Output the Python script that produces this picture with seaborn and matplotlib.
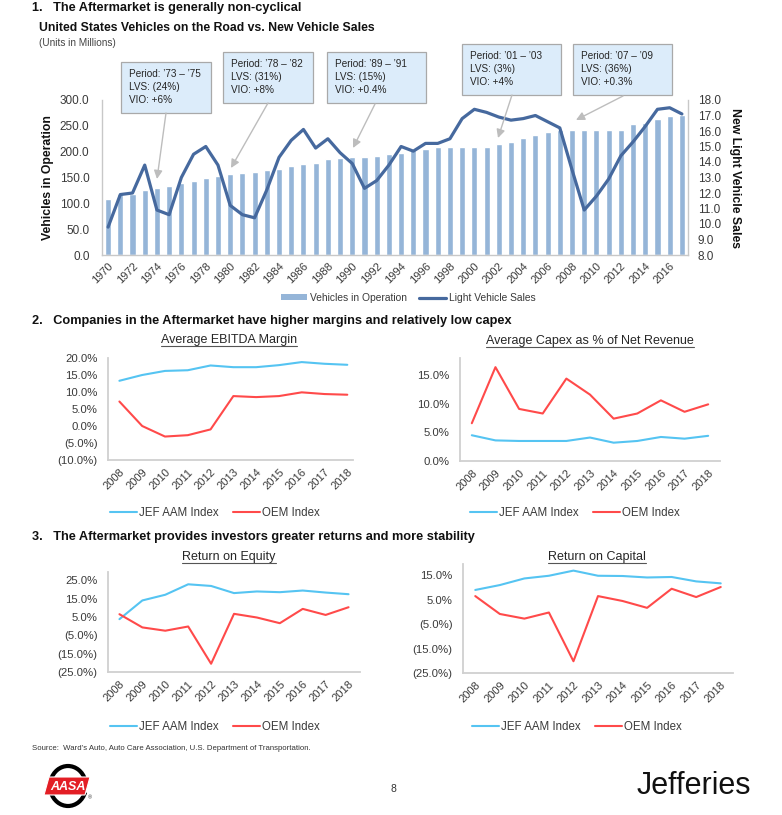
import numpy as np
import pandas as pd
import matplotlib
matplotlib.use("Agg")
import matplotlib.pyplot as plt
import seaborn as sns
from matplotlib.patches import Rectangle, Polygon, Arc, Patch, FancyArrowPatch
from matplotlib.lines import Line2D
from matplotlib.ticker import FuncFormatter

# ---------------- data ----------------
years = list(range(1970, 2018))
vio = [108, 118, 118, 126, 130, 133, 139, 143, 149, 152,
       156, 159, 160, 165, 166, 172, 176, 179, 185, 188,
       190, 189, 191, 195, 198, 203, 206, 210, 209, 209,
       210, 210, 214, 219, 226, 233, 238, 242, 242, 242,
       241, 241, 242, 253, 256, 263, 269, 271]
lvs = [9.8, 11.9, 12.0, 13.8, 10.9, 10.6, 13.0, 14.5, 15.0, 13.8,
       11.2, 10.6, 10.4, 12.2, 14.3, 15.4, 16.1, 14.9, 15.5, 14.6,
       13.9, 12.3, 12.8, 13.8, 15.0, 14.7, 15.2, 15.2, 15.5, 16.8,
       17.4, 17.2, 16.9, 16.7, 16.8, 17.0, 16.6, 16.2, 13.5, 10.9,
       11.8, 12.9, 14.4, 15.3, 16.3, 17.4, 17.5, 17.1]

periods = ["Period: \u201973 \u2013 \u201975\nLVS: (24%)\nVIO: +6%",
           "Period: \u201978 \u2013 \u201982\nLVS: (31%)\nVIO: +8%",
           "Period: \u201989 \u2013 \u201991\nLVS: (15%)\nVIO: +0.4%",
           "Period: \u201901 \u2013 \u201903\nLVS: (3%)\nVIO: +4%",
           "Period: \u201907 \u2013 \u201909\nLVS: (36%)\nVIO: +0.3%"]

small_years = list(range(2008, 2019))
ebitda_jef = [13.3, 15.0, 16.2, 16.4, 17.8, 17.3, 17.3, 17.9, 18.8, 18.3, 18.0]
ebitda_oem = [7.2, 0.0, -3.1, -2.7, -1.0, 8.8, 8.5, 8.8, 9.9, 9.4, 9.2]
capex_jef = [4.5, 3.6, 3.5, 3.5, 3.5, 4.1, 3.2, 3.5, 4.2, 3.9, 4.4]
capex_oem = [6.6, 16.4, 9.1, 8.3, 14.4, 11.6, 7.4, 8.3, 10.6, 8.6, 9.9]
roe_jef = [3.8, 14.0, 17.1, 22.8, 21.9, 18.0, 18.9, 18.5, 19.4, 18.3, 17.4]
roe_oem = [6.5, -0.7, -2.5, -0.2, -20.5, 6.7, 4.7, 1.6, 9.4, 6.1, 10.3]
roc_jef = [8.9, 10.9, 13.6, 14.7, 16.8, 14.7, 14.6, 14.0, 14.2, 12.4, 11.6]
roc_oem = [6.4, -0.9, -2.8, -0.3, -20.2, 6.4, 4.4, 1.6, 9.4, 6.0, 10.1]
series_names = ["JEF AAM Index", "OEM Index"]

# ---------------- style ----------------
sns.set_style("white")
plt.rcParams["font.family"] = ["Liberation Sans", "DejaVu Sans"]

W, H = 782, 815
fig = plt.figure(figsize=(W / 100, H / 100), dpi=100)
fig.patch.set_facecolor("white")

def fx(x):
    return x / W

def fy(y):
    return 1 - y / H

def add_ax(l, r, t, b):
    return fig.add_axes([fx(l), fy(b), (r - l) / W, (b - t) / H])

BAR = "#95b5d8"
LINE = "#46699e"
JEF = "#55c4f2"
OEM = "#ff4a4a"
SPINE = "#c8c8c8"
TXT = "#3a3a3a"

# ---------------- headings ----------------
fig.text(fx(32), fy(8), "1.   The Aftermarket is generally non-cyclical", fontsize=9.2,
         fontweight="bold", va="center", color="#111111")
fig.text(fx(39), fy(28), "United States Vehicles on the Road vs. New Vehicle Sales", fontsize=8.8,
         fontweight="bold", va="center", color="#111111")
fig.text(fx(39), fy(43), "(Units in Millions)", fontsize=7.2, va="center", color="#444444")
fig.text(fx(32), fy(321), "2.   Companies in the Aftermarket have higher margins and relatively low capex",
         fontsize=9.2, fontweight="bold", va="center", color="#111111")
fig.text(fx(32), fy(537), "3.   The Aftermarket provides investors greater returns and more stability",
         fontsize=9.2, fontweight="bold", va="center", color="#111111")

# ---------------- top chart ----------------
df_top = pd.DataFrame({"year": years, "vio": vio, "lvs": lvs})
ax = add_ax(102, 688, 100, 255)
sns.barplot(data=df_top, x="year", y="vio", color=BAR, saturation=1, width=0.5, ax=ax)
ax2 = ax.twinx()
sns.lineplot(x=np.arange(len(years)), y=df_top["lvs"].values, color=LINE, lw=2.3, ax=ax2)
ax.set_xlim(-0.5, len(years) - 0.5)
ax.set_ylim(0, 300)
ax2.set_ylim(8, 18)
ax.set_yticks(np.arange(0, 301, 50))
ax.yaxis.set_major_formatter(FuncFormatter(lambda v, p: f"{v:.1f}"))
ax2.set_yticks(np.arange(8, 19, 1))
ax2.yaxis.set_major_formatter(FuncFormatter(lambda v, p: f"{v:.1f}"))
pos = np.arange(0, len(years), 2)
ax.set_xticks(pos)
ax.set_xticklabels([str(years[i]) for i in pos], rotation=45, ha="right",
                   rotation_mode="anchor", fontsize=8.0, color=TXT)
ax.set_xlabel("")
ax.set_ylabel("Vehicles in Operation", fontsize=8.8, fontweight="bold", color="#111111")
ax2.set_ylabel("New Light Vehicle Sales", fontsize=8.8, fontweight="bold", color="#111111",
               rotation=270)
ax.yaxis.label.set_va("center")
ax2.yaxis.label.set_va("center")
ax.yaxis.set_label_coords(-0.092, 0.5)
ax2.yaxis.set_label_coords(1.080, 0.5)
for a in (ax, ax2):
    a.tick_params(axis="both", length=0, labelsize=8.5, labelcolor=TXT)
    a.spines["top"].set_visible(False)
    for s in ("left", "right", "bottom"):
        a.spines[s].set_color(SPINE)
        a.spines[s].set_linewidth(1.0)
ax.tick_params(axis="y", pad=9)
ax2.tick_params(axis="y", pad=7)
ax.tick_params(axis="x", pad=4, labelsize=8.0)
ax.spines["right"].set_visible(False)
ax2.spines["left"].set_visible(False)
ax2.spines["bottom"].set_visible(False)

fig.legend(handles=[Patch(facecolor=BAR, edgecolor="none", label="Vehicles in Operation"),
                    Line2D([], [], color=LINE, lw=2.3, label="Light Vehicle Sales")],
           loc="center", bbox_to_anchor=(fx(408), fy(298)), ncol=2, frameon=False,
           fontsize=7.4, handlelength=2.6, handleheight=0.55, columnspacing=1.2,
           handletextpad=0.25, labelcolor=TXT)

# annotation boxes (pixel layout: left, top, right, bottom, text x, text top)
boxes = [(121, 62, 211, 113, 129, 69),
         (223, 52, 313, 103, 231, 59),
         (327, 52, 426, 103, 335, 59),
         (462, 44, 561, 95, 470, 51),
         (573, 44, 672, 95, 581, 51)]
arrows = [((166, 113), (157, 179)),
          ((268, 103), (231, 168)),
          ((375, 104), (353, 148)),
          ((512, 95), (498, 138)),
          ((623, 96), (576, 120))]
for (l, t, r, b, tx, ty), txt in zip(boxes, periods):
    fig.add_artist(Rectangle((fx(l), fy(b)), (r - l) / W, (b - t) / H, transform=fig.transFigure,
                             facecolor="#dcecfa", edgecolor="#a9a9a9", lw=0.9, zorder=5))
    fig.text(fx(tx), fy(ty), txt, fontsize=7.2, va="top", ha="left", color="#262626",
             linespacing=1.35, zorder=6)
for (p0, p1) in arrows:
    fig.add_artist(FancyArrowPatch(
        (fx(p0[0]), fy(p0[1])), (fx(p1[0]), fy(p1[1])), transform=fig.transFigure,
        arrowstyle="-|>,head_length=5,head_width=2.5", color="#bdbdbd", lw=1.0,
        shrinkA=0, shrinkB=0, zorder=6))

# ---------------- small charts ----------------
def pct_fmt(v, p):
    return f"({abs(v):.1f}%)" if v < -1e-9 else f"{v:.1f}%"

titles = []

def small_chart(box, jef, oem, ylim, yticks, xlim, title, title_xy, legend_xy):
    l, r, t, b = box
    a = add_ax(l, r, t, b)
    df = pd.DataFrame({"x": list(range(len(small_years))) * 2,
                       "v": jef + oem,
                       "s": [series_names[0]] * len(jef) + [series_names[1]] * len(oem)})
    sns.lineplot(data=df, x="x", y="v", hue="s", palette=[JEF, OEM], lw=1.5, ax=a, legend=False)
    a.set_xlim(*xlim)
    a.set_ylim(*ylim)
    a.set_yticks(yticks)
    a.yaxis.set_major_formatter(FuncFormatter(pct_fmt))
    a.set_xticks(range(len(small_years)))
    a.set_xticklabels([str(y) for y in small_years], rotation=45, ha="right",
                      rotation_mode="anchor", fontsize=8.0, color=TXT)
    a.tick_params(axis="y", length=0, labelsize=8.2, labelcolor=TXT, pad=7.5)
    a.tick_params(axis="x", length=0, labelsize=8.0, labelcolor=TXT, pad=5)
    a.set_xlabel("")
    a.set_ylabel("")
    for s in ("top", "right"):
        a.spines[s].set_visible(False)
    for s in ("left", "bottom"):
        a.spines[s].set_color("#d0d0d0")
        a.spines[s].set_linewidth(1.3)
    tt = fig.text(fx(title_xy[0]), fy(title_xy[1]), title, ha="center", va="center",
                  fontsize=9.0, color="#262626")
    titles.append(tt)
    fig.legend(handles=[Line2D([], [], color=JEF, lw=1.5, label=series_names[0]),
                        Line2D([], [], color=OEM, lw=1.5, label=series_names[1])],
               loc="center", bbox_to_anchor=(fx(legend_xy[0]), fy(legend_xy[1])), ncol=2,
               frameon=False, fontsize=8.3, handlelength=2.3, columnspacing=1.3,
               handletextpad=0.2, labelcolor=TXT)
    return a

small_chart((108, 353, 358, 460), ebitda_jef, ebitda_oem, (-10, 20), np.arange(-10, 21, 5),
            (-0.5, 10.25), "Average EBITDA Margin", (229, 340), (215, 513))
small_chart((460, 720, 358, 461), capex_jef, capex_oem, (0, 18), np.arange(0, 16, 5),
            (-0.5, 10.5), "Average Capex as % of Net Revenue", (590, 341), (575, 513))
small_chart((108, 360, 572, 672), roe_jef, roe_oem, (-25, 29.5), np.arange(-25, 26, 10),
            (-0.5, 10.5), "Return on Equity", (229, 557), (215, 727))
small_chart((463, 733, 564, 673), roc_jef, roc_oem, (-25, 19.5), np.arange(-25, 16, 10),
            (-0.5, 10.5), "Return on Capital", (597, 557), (577, 727))

# ---------------- footer ----------------
fig.text(fx(32), fy(748), "Source:  Ward\u2019s Auto, Auto Care Association, U.S. Department of Transportation.",
         fontsize=5.6, va="center", color="#333333")
fig.text(fx(393), fy(789), "8", fontsize=7.5, va="center", ha="center", color="#333333")
fig.text(fx(694), fy(786), "Jefferies", fontsize=22, va="center", ha="center", color="#111111")

# AASA logo
axl = fig.add_axes([fx(43), fy(811), 50 / W, 50 / H])
axl.set_xlim(0, 50)
axl.set_ylim(0, 50)
axl.axis("off")
axl.add_patch(Arc((25, 25), 36, 40, theta1=20, theta2=160, color="black", lw=3))
axl.add_patch(Arc((25, 25), 36, 40, theta1=200, theta2=340, color="black", lw=3))
axl.add_patch(Polygon([(1, 16), (42, 16), (47, 34), (6, 34)], closed=True,
                      facecolor="#e31e25", edgecolor="white", lw=0.8))
axl.text(25, 24.5, "AASA", color="white", fontsize=9, fontweight="bold", fontstyle="italic",
         ha="center", va="center")
axl.text(47, 13, "\u00ae", fontsize=4, color="#333333", ha="center", va="center")

# underline small chart titles
fig.canvas.draw()
inv = fig.transFigure.inverted()
for tt in titles:
    bb = tt.get_window_extent().transformed(inv)
    yline = bb.y0 + 0.0005
    fig.add_artist(Line2D([bb.x0, bb.x1], [yline, yline], transform=fig.transFigure,
                          color="#555555", lw=0.8))

fig.savefig("out.png", dpi=100, facecolor="white")
